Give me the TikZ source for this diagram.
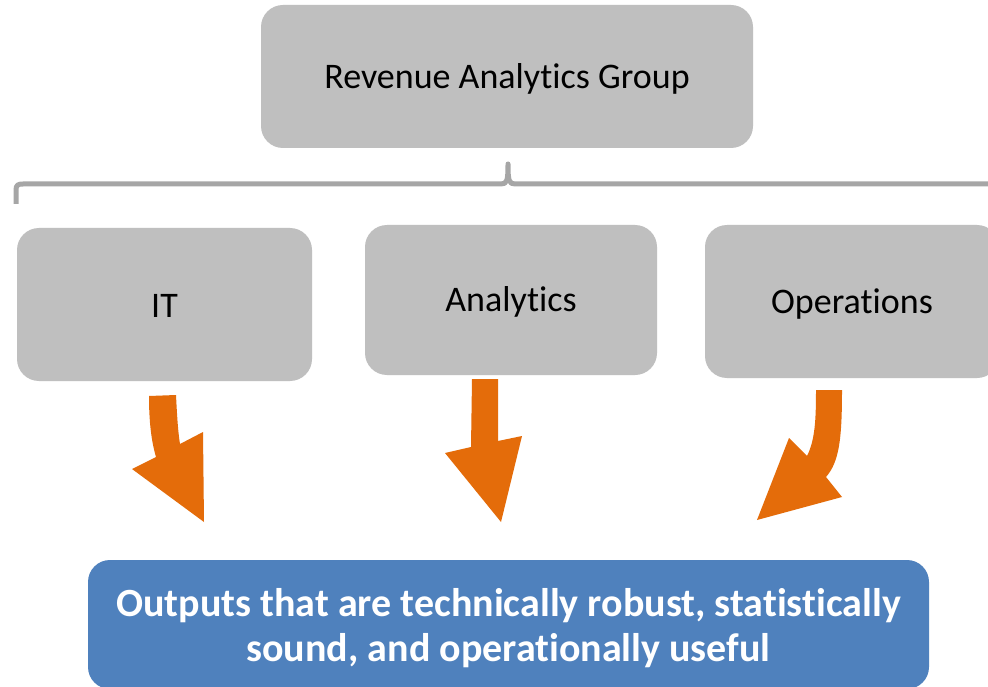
\documentclass[tikz,border=0pt]{standalone}
\usepackage{fontspec}
\setmainfont[Ligatures=NoCommon]{Carlito}
\definecolor{boxgray}{HTML}{BFBFBF}
\definecolor{bracegray}{HTML}{A6A6A6}
\definecolor{outblue}{HTML}{4F81BD}
\definecolor{arroworange}{HTML}{E46C0A}
\begin{document}
\begin{tikzpicture}[x=1pt,y=-1pt,
  unit/.style={fill=boxgray, rounded corners=22pt, inner sep=0pt,
    font=\fontsize{36}{43}\selectfont, text=black},
  unitlabel/.style={font=\fontsize{36}{43}\selectfont, text=black, inner sep=0pt},
  result/.style={fill=outblue, rounded corners=22pt, inner sep=0pt,
    font=\fontsize{40}{45}\selectfont\bfseries, text=white, align=center},
  flow/.style={fill=arroworange, draw=none}]
\clip (0,0) rectangle (988,687);
\fill[white] (0,0) rectangle (988,687);

% group and its three units
\node[unit, minimum width=492pt, minimum height=143pt] (group) at (507,76.5) {};
\node[unitlabel] (grouplabel) at ([yshift=-2pt]group.center) {Revenue Analytics Group};
\node[unit, minimum width=295pt, minimum height=153pt] (it) at (164.5,304.5) {};
\node[unitlabel] (itlabel) at ([yshift=-1pt]it.center) {IT};
\node[unit, minimum width=292pt, minimum height=150pt] (ana) at (511,300) {};
\node[unitlabel] (analabel) at ([yshift=-2pt]ana.center) {Analytics};
\node[unit, minimum width=294pt, minimum height=153pt] (ops) at (852,301.5) {};
\node[unitlabel] (opslabel) at ([yshift=-3pt]ops.center) {Operations};

% brace under the group
\coordinate (tip) at (508,164);
\draw[bracegray, line width=5pt, line join=round]
  (16,204) -- (16,190) .. controls (16,185) and (18,184) .. (23,184)
  -- (501,184) .. controls (507,184) and (508,181) .. (tip)
  .. controls (508,181) and (509,184) .. (515,184) -- (995,184);

% outcome box
\node[result, minimum width=841pt, minimum height=129pt] (out) at (508.5,624.5) {};
\node[result, fill=none] (outlabel) at ([yshift=-4pt]out.center)
  {Outputs that are technically robust, statistically\\sound, and operationally useful};

% block arrows from the units towards the outcome
\fill[flow] (149,396) -- (176,395) .. controls (177,415) and (178,432) .. (180,444)
  -- (203,432) -- (204,522) -- (132,469) -- (156,457)
  .. controls (151,440) and (149,420) .. cycle;
\fill[flow] (472,379) -- (498,379) -- (498,441) -- (522,436) -- (501,522)
  -- (445,453) -- (471,447) -- cycle;
\fill[flow] (816,390) -- (842,390) .. controls (842,440) and (839,462) .. (826,477)
  -- (842,497) -- (757,520) -- (789,438) -- (807,456)
  .. controls (815,440) and (816,420) .. cycle;
\end{tikzpicture}
\end{document}
